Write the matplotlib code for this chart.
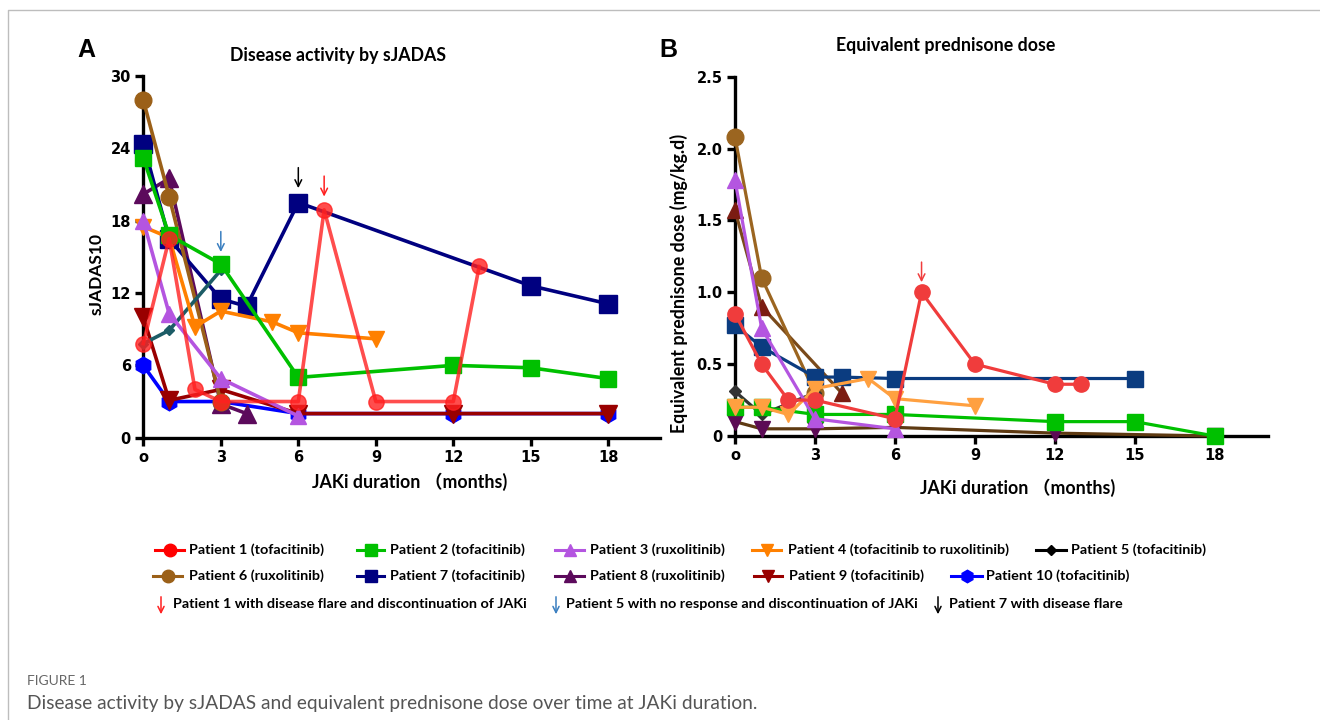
import matplotlib
matplotlib.use("Agg")
import matplotlib.pyplot as plt
from matplotlib.lines import Line2D
from matplotlib.patches import FancyArrowPatch

W, H = 1320, 720

month_ticks = [0, 3, 6, 9, 12, 15, 18]
month_labels = ["o", "3", "6", "9", "12", "15", "18"]
sjadas_ticks = [0, 6, 12, 18, 24, 30]
dose_ticks = [0, 0.5, 1.0, 1.5, 2.0, 2.5]
dose_labels = ["0", "0.5", "1.0", "1.5", "2.0", "2.5"]

patient_labels = [
    "Patient 1 (tofacitinib)", "Patient 2 (tofacitinib)", "Patient 3 (ruxolitinib)",
    "Patient 4 (tofacitinib to ruxolitinib)", "Patient 5 (tofacitinib)",
    "Patient 6 (ruxolitinib)", "Patient 7 (tofacitinib)", "Patient 8 (ruxolitinib)",
    "Patient 9 (tofacitinib)", "Patient 10 (tofacitinib)",
]
arrow_labels = [
    "Patient 1 with disease flare and discontinuation of JAKi",
    "Patient 5 with no response and discontinuation of JAKi",
    "Patient 7 with disease flare",
]

# panel A: sJADAS10 over months
a_p1_x = [0, 1, 2, 3, 6, 7, 9, 12, 13]
a_p1_y = [7.8, 16.5, 4.0, 3.0, 3.0, 18.9, 3.0, 3.0, 14.2]
a_p2_x = [0, 1, 3, 6, 12, 15, 18]
a_p2_y = [23.2, 16.8, 14.4, 5.0, 6.0, 5.8, 4.9]
a_p3_x = [0, 1, 3, 6]
a_p3_y = [18.0, 10.3, 4.9, 1.8]
a_p4_x = [0, 1, 2, 3, 5, 6, 9]
a_p4_y = [17.5, 16.6, 9.2, 10.5, 9.6, 8.7, 8.2]
a_p5_x = [0, 1, 3]
a_p5_y = [7.8, 8.9, 13.9]
a_p6_x = [0, 1, 3]
a_p6_y = [28.0, 20.0, 3.0]
a_p7_x = [0, 1, 3, 4, 6, 15, 18]
a_p7_y = [24.4, 16.5, 11.5, 10.9, 19.5, 12.6, 11.1]
a_p8_x = [0, 1, 3, 4]
a_p8_y = [20.2, 21.5, 2.8, 2.0]
a_p9_x = [0, 1, 3, 6, 12, 18]
a_p9_y = [10.0, 3.1, 4.0, 2.0, 2.0, 2.0]
a_p10_x = [0, 1, 3, 6, 12, 18]
a_p10_y = [6.0, 3.0, 3.0, 2.0, 2.0, 2.0]

# panel B: equivalent prednisone dose (mg/kg.d)
b_p1_x = [0, 1, 2, 3, 6, 7, 9, 12, 13]
b_p1_y = [0.85, 0.5, 0.25, 0.25, 0.12, 1.0, 0.5, 0.36, 0.36]
b_p2_x = [0, 1, 3, 6, 12, 15, 18]
b_p2_y = [0.2, 0.2, 0.15, 0.15, 0.1, 0.1, 0.0]
b_p3_x = [0, 1, 3, 6]
b_p3_y = [1.78, 0.75, 0.12, 0.05]
b_p4_x = [0, 1, 2, 3, 5, 6, 9]
b_p4_y = [0.2, 0.2, 0.15, 0.33, 0.4, 0.26, 0.21]
b_p5_x = [0, 1, 3]
b_p5_y = [0.31, 0.15, 0.3]
b_p6_x = [0, 1, 3]
b_p6_y = [2.08, 1.1, 0.3]
b_p7_x = [0, 1, 3, 4, 6, 15]
b_p7_y = [0.77, 0.62, 0.41, 0.41, 0.4, 0.4]
b_p8_x = [0, 1, 4]
b_p8_y = [1.57, 0.9, 0.3]
b_p9_x = [0, 1, 3, 6, 12, 18]
b_p9_y = [0.1, 0.05, 0.05, 0.06, 0.02, 0.0]

# (x, y, line color, marker, marker color, marker size, alpha)
series_a = [
    (a_p10_x, a_p10_y, "#0000FF", "h", "#0000FF", 12, 1),
    (a_p9_x, a_p9_y, "#990000", "v", "#990000", 13, 1),
    (a_p8_x, a_p8_y, "#5C0A5C", "^", "#5C0A5C", 13, 1),
    (a_p7_x, a_p7_y, "#000080", "s", "#000080", 13, 1),
    (a_p6_x, a_p6_y, "#9B6018", "o", "#9B6018", 12, 1),
    (a_p5_x, a_p5_y, "#1C5C66", "D", "#1C5C66", 5, 1),
    (a_p4_x, a_p4_y, "#FF8000", "v", "#FF8000", 12, 1),
    (a_p2_x, a_p2_y, "#00C000", "s", "#00C000", 12, 1),
    (a_p3_x, a_p3_y, "#B455E0", "^", "#B455E0", 12, 1),
    (a_p1_x, a_p1_y, "#FF2020", "o", "#FF2020", 11, 0.8),
]
series_b = [
    (b_p9_x, b_p9_y, "#5E3A12", "v", "#5C0B55", 11, 1),
    (b_p8_x, b_p8_y, "#7A4A1A", "^", "#7B1C12", 11, 1),
    (b_p6_x, b_p6_y, "#9B6520", "o", "#9B6520", 12, 1),
    (b_p5_x, b_p5_y, "#333333", "D", "#333333", 6, 1),
    (b_p2_x, b_p2_y, "#00C000", "s", "#00C000", 11, 1),
    (b_p7_x, b_p7_y, "#0B3C80", "s", "#0B3C80", 12, 1),
    (b_p4_x, b_p4_y, "#FFA040", "v", "#FFA040", 11, 1),
    (b_p3_x, b_p3_y, "#B455E0", "^", "#B455E0", 11, 1),
    (b_p1_x, b_p1_y, "#F03C3C", "o", "#F03C3C", 11, 1),
]

legend_styles = [
    ("#FF0000", "o", 9), ("#00C000", "s", 8), ("#B455E0", "^", 9),
    ("#FF8000", "v", 9), ("#000000", "D", 5), ("#9B6018", "o", 9),
    ("#000080", "s", 8), ("#5C0A5C", "^", 9), ("#990000", "v", 9),
    ("#0000FF", "h", 9),
]

bold_font = ["Lato", "Noto Sans CJK SC"]


def fx(px):
    return px / W


def fy(py):
    return 1 - py / H


def style_axis(ax, yticks, ylabels, ylim):
    ax.set_xlim(0, 20)
    ax.set_ylim(*ylim)
    for side in ["top", "right"]:
        ax.spines[side].set_visible(False)
    for side in ["left", "bottom"]:
        ax.spines[side].set_linewidth(2.4)
    ax.set_xticks(month_ticks)
    ax.set_xticklabels(month_labels)
    ax.set_yticks(yticks)
    ax.set_yticklabels(ylabels)
    ax.tick_params(length=6, width=2.4, pad=3)
    for lab in ax.get_xticklabels() + ax.get_yticklabels():
        lab.set_fontfamily("DejaVu Sans")
        lab.set_fontweight("bold")
        lab.set_fontsize(10.5)


def draw_series(ax, series, lw):
    for x, y, lc, mk, mc, ms, al in series:
        ax.plot(x, y, color=lc, lw=lw, marker=mk, markersize=ms,
                markerfacecolor=mc, markeredgecolor=mc, alpha=al,
                clip_on=False, zorder=3)


def data_arrow(ax, x, y0, y1, color):
    ax.annotate("", xy=(x, y1), xytext=(x, y0),
                arrowprops=dict(arrowstyle="->", color=color, lw=1.1,
                                mutation_scale=12, shrinkA=0, shrinkB=0),
                annotation_clip=False)


fig = plt.figure(figsize=(13.2, 7.2), dpi=100)

axA = fig.add_axes([fx(143.3), fy(437.7), fx(660) - fx(143.3), fy(76) - fy(437.7)])
axB = fig.add_axes([fx(735), fy(436), fx(1268) - fx(735), fy(76.7) - fy(436)])

style_axis(axA, sjadas_ticks, [str(t) for t in sjadas_ticks], (0, 30))
style_axis(axB, dose_ticks, dose_labels, (0, 2.5))

draw_series(axA, series_a, 2.6)
draw_series(axB, series_b, 2.3)

data_arrow(axA, 6, 22.4, 20.7, "black")
data_arrow(axA, 7, 21.7, 20.0, "#FF2020")
data_arrow(axA, 3, 17.1, 15.4, "#3A7FC0")
data_arrow(axB, 7, 1.21, 1.07, "#F03C3C")

# titles, panel letters and axis labels
fig.text(fx(86), fy(50), "A", fontsize=18, fontweight="bold",
         family="Liberation Sans", ha="center", va="center")
fig.text(fx(668), fy(50), "B", fontsize=18, fontweight="bold",
         family="Liberation Sans", ha="center", va="center")
fig.text(fx(338), fy(55), "Disease activity by sJADAS", fontsize=12.8,
         fontweight="bold", family=bold_font, ha="center", va="center")
fig.text(fx(946), fy(45), "Equivalent prednisone dose", fontsize=12.8,
         fontweight="bold", family=bold_font, ha="center", va="center")
fig.text(fx(410), fy(482), "JAKi duration （months)", fontsize=12.8,
         fontweight="bold", family=bold_font, ha="center", va="center")
fig.text(fx(1018), fy(488), "JAKi duration （months)", fontsize=12.8,
         fontweight="bold", family=bold_font, ha="center", va="center")
fig.text(fx(97), fy(274), "sJADAS10", fontsize=12.5, fontweight="bold",
         family=bold_font, rotation=90, ha="center", va="center")
fig.text(fx(679), fy(283), "Equivalent prednisone dose (mg/kg.d)", fontsize=12.8,
         fontweight="bold", family=bold_font, rotation=90, ha="center", va="center")

# legend rows drawn by hand to follow the reference layout
legend_rows = [
    (550, [(155, 184, 189), (357, 384, 390), (555, 584, 590), (752, 781, 788), (1036, 1066, 1071)]),
    (576, [(153, 182, 189), (357, 384, 390), (555, 584, 590), (754, 782, 789), (951, 982, 986)]),
]
k = 0
for row_y, slots in legend_rows:
    for x0, x1, xt in slots:
        col, mk, ms = legend_styles[k]
        fig.add_artist(Line2D([fx(x0), fx(x1)], [fy(row_y), fy(row_y)],
                              transform=fig.transFigure, color=col, lw=2.2))
        fig.add_artist(Line2D([fx((x0 + x1) / 2)], [fy(row_y)], transform=fig.transFigure,
                              marker=mk, markersize=ms, color=col, linestyle="None"))
        fig.text(fx(xt), fy(row_y), patient_labels[k], fontsize=10.4, fontweight="bold",
                 family=bold_font, ha="left", va="center")
        k += 1

arrow_slots = [(161, 173, "#FF2020"), (556, 566, "#3A7FC0"), (938, 949, "black")]
for (xa, xt, col), label in zip(arrow_slots, arrow_labels):
    fig.add_artist(FancyArrowPatch((fx(xa), fy(594)), (fx(xa), fy(617)),
                                   transform=fig.transFigure, arrowstyle="->",
                                   mutation_scale=11, color=col, lw=1.1))
    fig.text(fx(xt), fy(604), label, fontsize=10.4, fontweight="bold",
             family=bold_font, ha="left", va="center")

# page frame and caption
fig.add_artist(Line2D([fx(8), fx(8), fx(1320)], [fy(720), fy(10), fy(10)],
                      transform=fig.transFigure, color="#BDBDBD", lw=1))
fig.text(fx(27), fy(681), "FIGURE 1", fontsize=10, color="#666666",
         family="Lato", ha="left", va="center")
fig.text(fx(27), fy(704), "Disease activity by sJADAS and equivalent prednisone dose over time at JAKi duration.",
         fontsize=13.8, color="#555555", family="Lato", ha="left", va="center")

fig.savefig("out.png", dpi=100)
